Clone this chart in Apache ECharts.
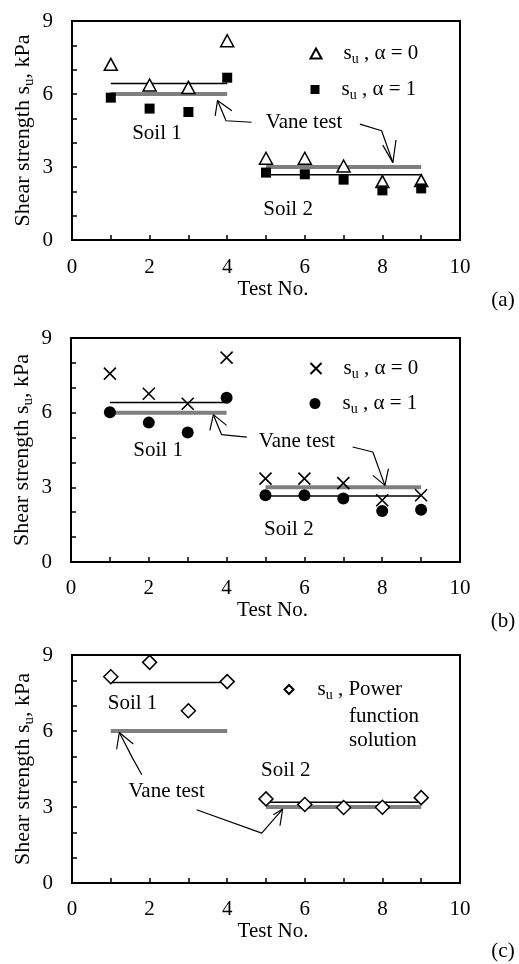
<!DOCTYPE html>
<html>
<head>
<meta charset="utf-8">
<script src="https://cdn.jsdelivr.net/npm/echarts@6/dist/echarts.min.js"></script>
<style>
  html, body { margin: 0; padding: 0; background: #fff; }
  #chart { width: 519px; height: 964px; }
</style>
</head>
<body>
<div id="chart"></div>
<script>
// test numbers (x) and shear strength values (kPa)
const testNo = [1, 2, 3, 4, 5, 6, 7, 8, 9];
const aAlpha0 = [7.22, 6.37, 6.27, 8.19, 3.36, 3.36, 3.04, 2.40, 2.44];
const aAlpha1 = [5.85, 5.40, 5.26, 6.67, 2.77, 2.70, 2.48, 2.04, 2.12];
const bAlpha0 = [7.57, 6.76, 6.36, 8.21, 3.35, 3.35, 3.17, 2.48, 2.68];
const bAlpha1 = [6.02, 5.60, 5.20, 6.60, 2.68, 2.68, 2.55, 2.05, 2.10];
const cPower = [8.14, 8.71, 6.80, 7.95, 3.32, 3.10, 2.98, 2.99, 3.37];

// horizontal lines: soil 1 spans tests 1-4, soil 2 spans tests 5-9
const soil1Range = [1, 4];
const soil2Range = [5, 9];
const vaneTest = [6.0, 3.0];
const aMean = [6.43, 2.68];
const bMean = [6.41, 2.65];
const cMean = [7.91, 3.19];

const xTicks = [0, 2, 4, 6, 8, 10];
const yTicks = [0, 3, 6, 9];

// annotation anchors, in data units of each panel
const soilLabelAt = [
  [[2.19, 4.36], [5.57, 1.27]],
  [[2.24, 4.50], [5.60, 1.31]],
  [[1.56, 7.08], [5.51, 4.45]]
];
const vaneLabelAt = [[5.98, 4.81], [5.81, 4.86], [2.44, 3.60]];
const arrowShafts = [
  [[[4.63, 4.84], [3.97, 4.90], [3.75, 5.73]], [[7.42, 4.76], [7.98, 4.49], [8.27, 3.18]]],
  [[[4.52, 5.02], [3.87, 5.12], [3.66, 5.92]], [[7.24, 4.62], [7.76, 4.42], [8.07, 3.08]]],
  [[[1.80, 4.27], [1.56, 4.93], [1.22, 5.94]], [[3.21, 2.89], [4.89, 1.97], [5.43, 2.92]]]
];
const arrowHeads = [
  [[[3.69, 5.10], [3.75, 5.73], [4.12, 5.31]], [[8.01, 3.90], [8.27, 3.18], [8.35, 4.11]]],
  [[[3.57, 5.29], [3.66, 5.92], [4.00, 5.49]], [[7.76, 3.48], [8.07, 3.08], [8.16, 3.75]]],
  [[[1.15, 5.28], [1.22, 5.94], [1.58, 5.49]], [[5.19, 2.69], [5.43, 2.92], [5.36, 2.26]]]
];
const panelTags = ['(a)', '(b)', '(c)'];

const FONT = 'Liberation Serif';
const txt = { fontFamily: FONT, fontSize: 21, color: '#000' };
const rich = {
  n: { fontFamily: FONT, fontSize: 21, color: '#000' },
  sub: { fontFamily: FONT, fontSize: 14, color: '#000', padding: [12, 0, 0, 0] },
  pad: { fontFamily: FONT, fontSize: 21, width: 17 },
  pad2: { fontFamily: FONT, fontSize: 21, width: 19 }
};
const nameRich = {
  n: { fontFamily: FONT, fontSize: 22, color: '#000' },
  sub: { fontFamily: FONT, fontSize: 15, color: '#000', padding: [12, 0, 0, 0] }
};

const grids = [
  { left: 72, top: 21, width: 388, height: 219 },
  { left: 71, top: 338, width: 389, height: 224 },
  { left: 72, top: 655, width: 388, height: 228 }
];
const xLabelMargin = [17, 16, 16];
const xNameGap = [39, 34, 27];

const chart = echarts.init(document.getElementById('chart'));

function pairs(values) {
  return testNo.map((x, k) => [x, values[k]]);
}
function hLine(gi, range, y, color, width) {
  return {
    type: 'line', xAxisIndex: gi, yAxisIndex: gi, silent: true, symbol: 'none',
    data: [[range[0], y], [range[1], y]],
    lineStyle: { color: color, width: width }
  };
}
function polyline(gi, pts) {
  return {
    type: 'line', xAxisIndex: gi, yAxisIndex: gi, silent: true, symbol: 'none',
    data: pts, lineStyle: { color: '#000', width: 1.2 }
  };
}
function dots(gi, name, values, symbol, size, fill, border) {
  return {
    type: 'scatter', name: name, xAxisIndex: gi, yAxisIndex: gi,
    data: pairs(values), symbol: symbol, symbolSize: size,
    itemStyle: { color: fill, borderColor: '#000', borderWidth: border, opacity: 1 },
    z: 5
  };
}

const means = [aMean, bMean, cMean];
let series = [];
[0, 1, 2].forEach(gi => {
  series.push(hLine(gi, soil1Range, vaneTest[0], '#7f7f7f', 4));
  series.push(hLine(gi, soil2Range, vaneTest[1], '#7f7f7f', 4));
  series.push(hLine(gi, soil1Range, means[gi][0], '#000', 1.5));
  series.push(hLine(gi, soil2Range, means[gi][1], '#000', 1.5));
  arrowShafts[gi].forEach(p => series.push(polyline(gi, p)));
  arrowHeads[gi].forEach(p => series.push(polyline(gi, p)));
});
const CROSS = 'path://M0,0L10,10M10,0L0,10';
series.push(dots(0, 'a0', aAlpha0, 'triangle', [13, 12], '#fff', 1.5));
series.push(dots(0, 'a1', aAlpha1, 'rect', 10, '#000', 0));
series.push(dots(1, 'b0', bAlpha0, CROSS, 12, '#000', 1.6));
series.push(dots(1, 'b1', bAlpha1, 'circle', 12, '#000', 0));
series.push(dots(2, 'c', cPower, 'diamond', 14, '#fff', 1.5));

const legendText = {
  a0: '{pad| }{n|s}{sub|u}{n| , α = 0}',
  a1: '{pad| }{n|s}{sub|u}{n| , α = 1}',
  b0: '{pad| }{n|s}{sub|u}{n| , α = 0}',
  b1: '{pad| }{n|s}{sub|u}{n| , α = 1}',
  c: '{pad2| }{n|s}{sub|u}{n| , Power}'
};
// [name, icon centre x, icon centre y, icon w, icon h]
const legendItems = [
  ['a0', 315, 56, 11, 10],
  ['a1', 315, 92, 9, 9],
  ['b0', 315, 371, 11, 11],
  ['b1', 315, 406, 11, 11],
  ['c', 288, 692, 9, 9]
];
const legends = legendItems.map(it => ({
  data: [it[0]], orient: 'vertical', selectedMode: false, padding: 0,
  left: it[1] - it[3] / 2, top: it[2] - 13,
  itemWidth: it[3], itemHeight: it[4],
  formatter: name => legendText[name],
  textStyle: { fontFamily: FONT, fontSize: 21, color: '#000', rich: rich }
}));

chart.setOption({
  animation: false,
  backgroundColor: '#fff',
  grid: grids.map(g => Object.assign({ show: true, borderColor: '#000', borderWidth: 2, outerBoundsMode: 'none' }, g)),
  legend: legends,
  xAxis: grids.map((g, gi) => ({
    gridIndex: gi, type: 'value', min: 0, max: 10, interval: 1,
    axisLine: { show: true, onZero: false, lineStyle: { color: '#000', width: 2 } },
    axisTick: { show: true, inside: true, length: 5, lineStyle: { color: '#000', width: 1.5 } },
    axisLabel: Object.assign({ margin: xLabelMargin[gi], formatter: v => xTicks.includes(v) ? String(v) : '' }, txt),
    splitLine: { show: false },
    name: 'Test No.', nameLocation: 'middle', nameGap: xNameGap[gi],
    nameTextStyle: Object.assign({ padding: [0, 0, 0, 14] }, txt)
  })),
  yAxis: grids.map((g, gi) => ({
    gridIndex: gi, type: 'value', min: 0, max: 9, interval: 1,
    axisLine: { show: true, onZero: false, lineStyle: { color: '#000', width: 2 } },
    axisTick: { show: true, inside: true, length: 5, lineStyle: { color: '#000', width: 1.5 } },
    axisLabel: Object.assign({ margin: 19, formatter: v => yTicks.includes(v) ? String(v) : '' }, txt),
    splitLine: { show: false },
    name: '{n|Shear strength s}{sub|u}{n|, kPa}', nameLocation: 'middle', nameGap: 35, nameRotate: 90,
    nameMoveOverlap: false,
    nameTextStyle: { fontFamily: FONT, fontSize: 22, color: '#000', rich: nameRich }
  })),
  series: series
});

// annotation texts placed through each grid's own scales
let graphics = [];
function label(gi, pt, text) {
  const p = chart.convertToPixel({ gridIndex: gi }, pt);
  graphics.push({
    type: 'text', x: p[0], y: p[1], silent: true,
    style: { text: text, font: '21px "Liberation Serif"', fill: '#000', align: 'center', verticalAlign: 'middle' }
  });
}
[0, 1, 2].forEach(gi => {
  label(gi, soilLabelAt[gi][0], 'Soil 1');
  label(gi, soilLabelAt[gi][1], 'Soil 2');
  label(gi, vaneLabelAt[gi], 'Vane test');
});
const tagY = [300, 621, 951];
panelTags.forEach((t, i) => graphics.push({
  type: 'text', x: 503, y: tagY[i], silent: true,
  style: { text: t, font: '21px "Liberation Serif"', fill: '#000', align: 'center', verticalAlign: 'middle' }
}));
// continuation lines of the panel (c) legend
['function', 'solution'].forEach((t, i) => graphics.push({
  type: 'text', x: 349, y: 716 + i * 24.5, silent: true,
  style: { text: t, font: '21px "Liberation Serif"', fill: '#000', align: 'left', verticalAlign: 'middle' }
}));
chart.setOption({ graphic: graphics });
</script>
</body>
</html>
